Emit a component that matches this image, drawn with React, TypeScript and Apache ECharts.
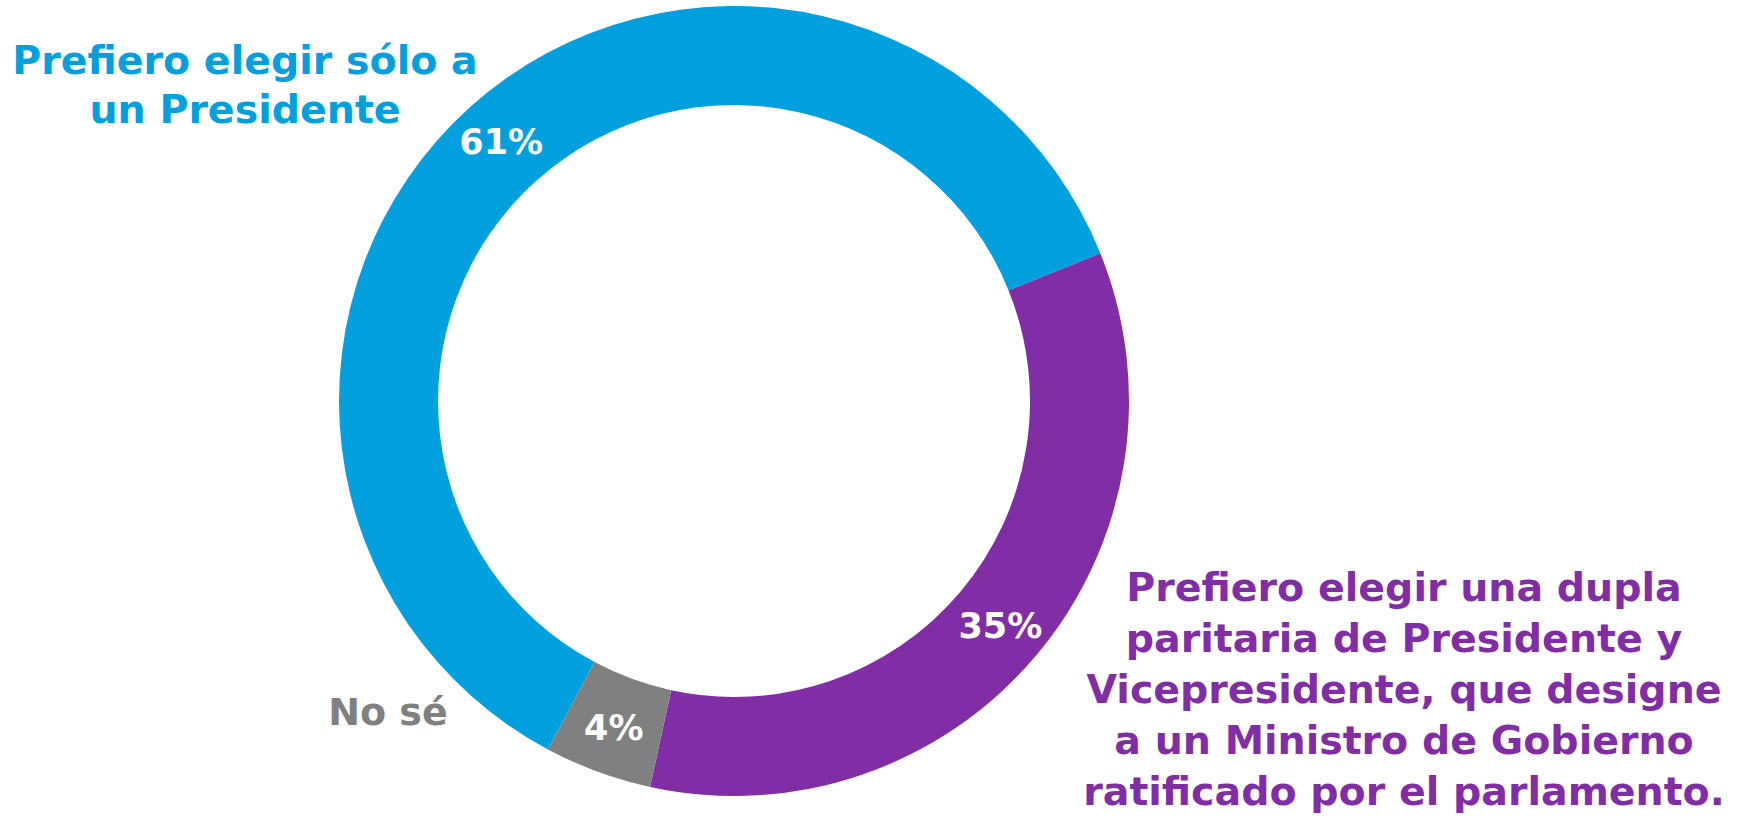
import React, { useEffect, useRef } from "react";
import * as echarts from "echarts";

const categories = [
  "Prefiero elegir sólo a un Presidente",
  "Prefiero elegir una dupla paritaria de Presidente y Vicepresidente, que designe a un Ministro de Gobierno ratificado por el parlamento.",
  "No sé",
];
const values = [61.1, 34.5, 4.4];
const colors = ["#00A0DF", "#812DA5", "#808080"];
const FONT = "'DejaVu Sans', 'Open Sans', sans-serif";

export default function App() {
  const ref = useRef<HTMLDivElement>(null);
  useEffect(() => {
    if (!ref.current) return;
    const chart = echarts.init(ref.current, null, { renderer: "svg" });
    chart.setOption({
      animation: false,
      backgroundColor: "#ffffff",
      series: [
        {
          type: "pie",
          center: [734, 401],
          radius: [296, 395],
          startAngle: 241.9,
          clockwise: true,
          avoidLabelOverlap: false,
          itemStyle: { borderWidth: 0 },
          label: {
            show: true,
            position: "inside",
            color: "#ffffff",
            fontFamily: FONT,
            fontWeight: "bold",
            fontSize: 35,
            formatter: (p: any) => Math.round(p.value) + "%",
          },
          labelLine: { show: false },
          emphasis: { disabled: true },
          data: categories.map((name, i) => ({
            name,
            value: values[i],
            itemStyle: { color: colors[i] },
          })),
        },
      ],
      graphic: [
        {
          type: "text",
          x: 245,
          y: 84,
          style: {
            text: "Prefiero elegir sólo a\nun Presidente",
            fill: colors[0],
            font: `bold 39.5px ${FONT}`,
            textAlign: "center",
            textVerticalAlign: "middle",
            lineHeight: 49,
          },
        },
        {
          type: "text",
          x: 1404,
          y: 689,
          style: {
            text:
              "Prefiero elegir una dupla\nparitaria de Presidente y\nVicepresidente, que designe\na un Ministro de Gobierno\nratificado por el parlamento.",
            fill: colors[1],
            font: `bold 39.5px ${FONT}`,
            textAlign: "center",
            textVerticalAlign: "middle",
            lineHeight: 51,
          },
        },
        {
          type: "text",
          x: 388,
          y: 712,
          style: {
            text: "No sé",
            fill: colors[2],
            font: `bold 38px ${FONT}`,
            textAlign: "center",
            textVerticalAlign: "middle",
          },
        },
      ],
    });
    return () => chart.dispose();
  }, []);
  return (
    <div
      ref={ref}
      style={{ position: "fixed", left: 0, top: 0, width: 1742, height: 819 }}
    />
  );
}
